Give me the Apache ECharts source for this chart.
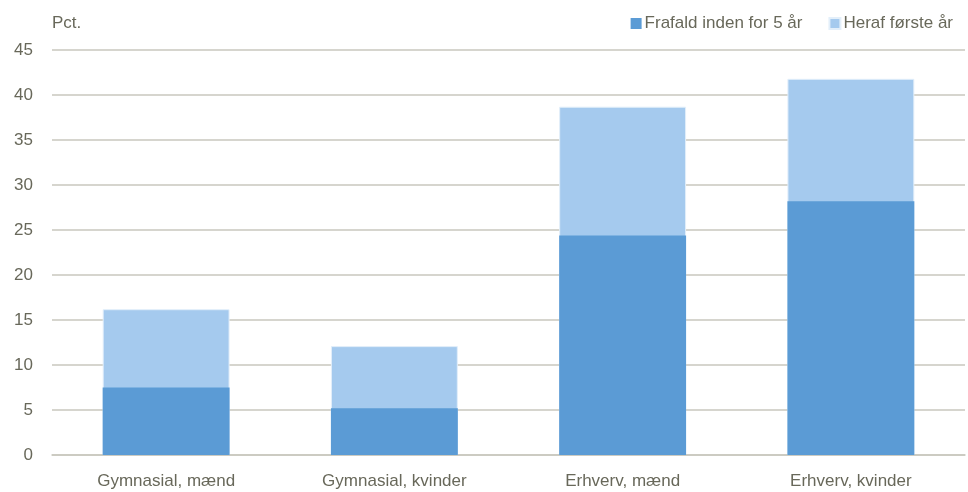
<!DOCTYPE html>
<html><head><meta charset="utf-8">
<script src="https://cdn.jsdelivr.net/npm/echarts@6/dist/echarts.min.js"></script>
<style>html,body{margin:0;padding:0;background:#fff}#c{width:968px;height:492px}</style>
</head><body><div id="c"></div>
<script>
var categories = ['Gymnasial, mænd', 'Gymnasial, kvinder', 'Erhverv, mænd', 'Erhverv, kvinder'];
var frafald5 = [7.5, 5.2, 24.4, 28.2];
var foersteAarTop = [16.2, 12.1, 38.7, 41.8];
var seriesNames = ['Frafald inden for 5 år', 'Heraf første år'];
var yTicks = [0, 5, 10, 15, 20, 25, 30, 35, 40, 45];

var font = '"Liberation Sans", Arial, sans-serif';
var txt = '#68685a';
var chart = echarts.init(document.getElementById('c'));
chart.setOption({
  animation: false,
  grid: { left: 52, right: 3, top: 50, bottom: 37, containLabel: false },
  legend: {
    right: 10, top: 10, itemWidth: 11, itemHeight: 11, itemGap: 26,
    icon: 'rect',
    textStyle: { color: txt, fontSize: 17, fontFamily: font, padding: [0, 0, 0, -2] },
    data: seriesNames
  },
  graphic: [{ type: 'text', left: 52, top: 15, style: { text: 'Pct.', fill: txt, font: '17px ' + font } }],
  xAxis: {
    type: 'category', data: categories,
    axisLine: { lineStyle: { color: '#c9c7be', width: 1.5 } },
    axisTick: { show: false },
    axisLabel: { color: txt, fontSize: 17, fontFamily: font, margin: 18 }
  },
  yAxis: {
    type: 'value', min: yTicks[0], max: yTicks[yTicks.length - 1], interval: 5,
    axisLine: { show: false }, axisTick: { show: false },
    axisLabel: { color: txt, fontSize: 17, fontFamily: font, margin: 19 },
    splitLine: { lineStyle: { color: '#c9c7be', width: 1.5 } }
  },
  series: [
    { name: seriesNames[0], type: 'bar', data: frafald5, barWidth: '55.6%', barGap: '-100%', z: 3,
      itemStyle: { color: '#5b9bd5' } },
    { name: seriesNames[1], type: 'bar', data: foersteAarTop, barWidth: '55.6%', barGap: '-100%', z: 2,
      itemStyle: { color: '#a5caee', borderColor: '#e3effa', borderWidth: 1 } }
  ]
});
</script></body></html>
